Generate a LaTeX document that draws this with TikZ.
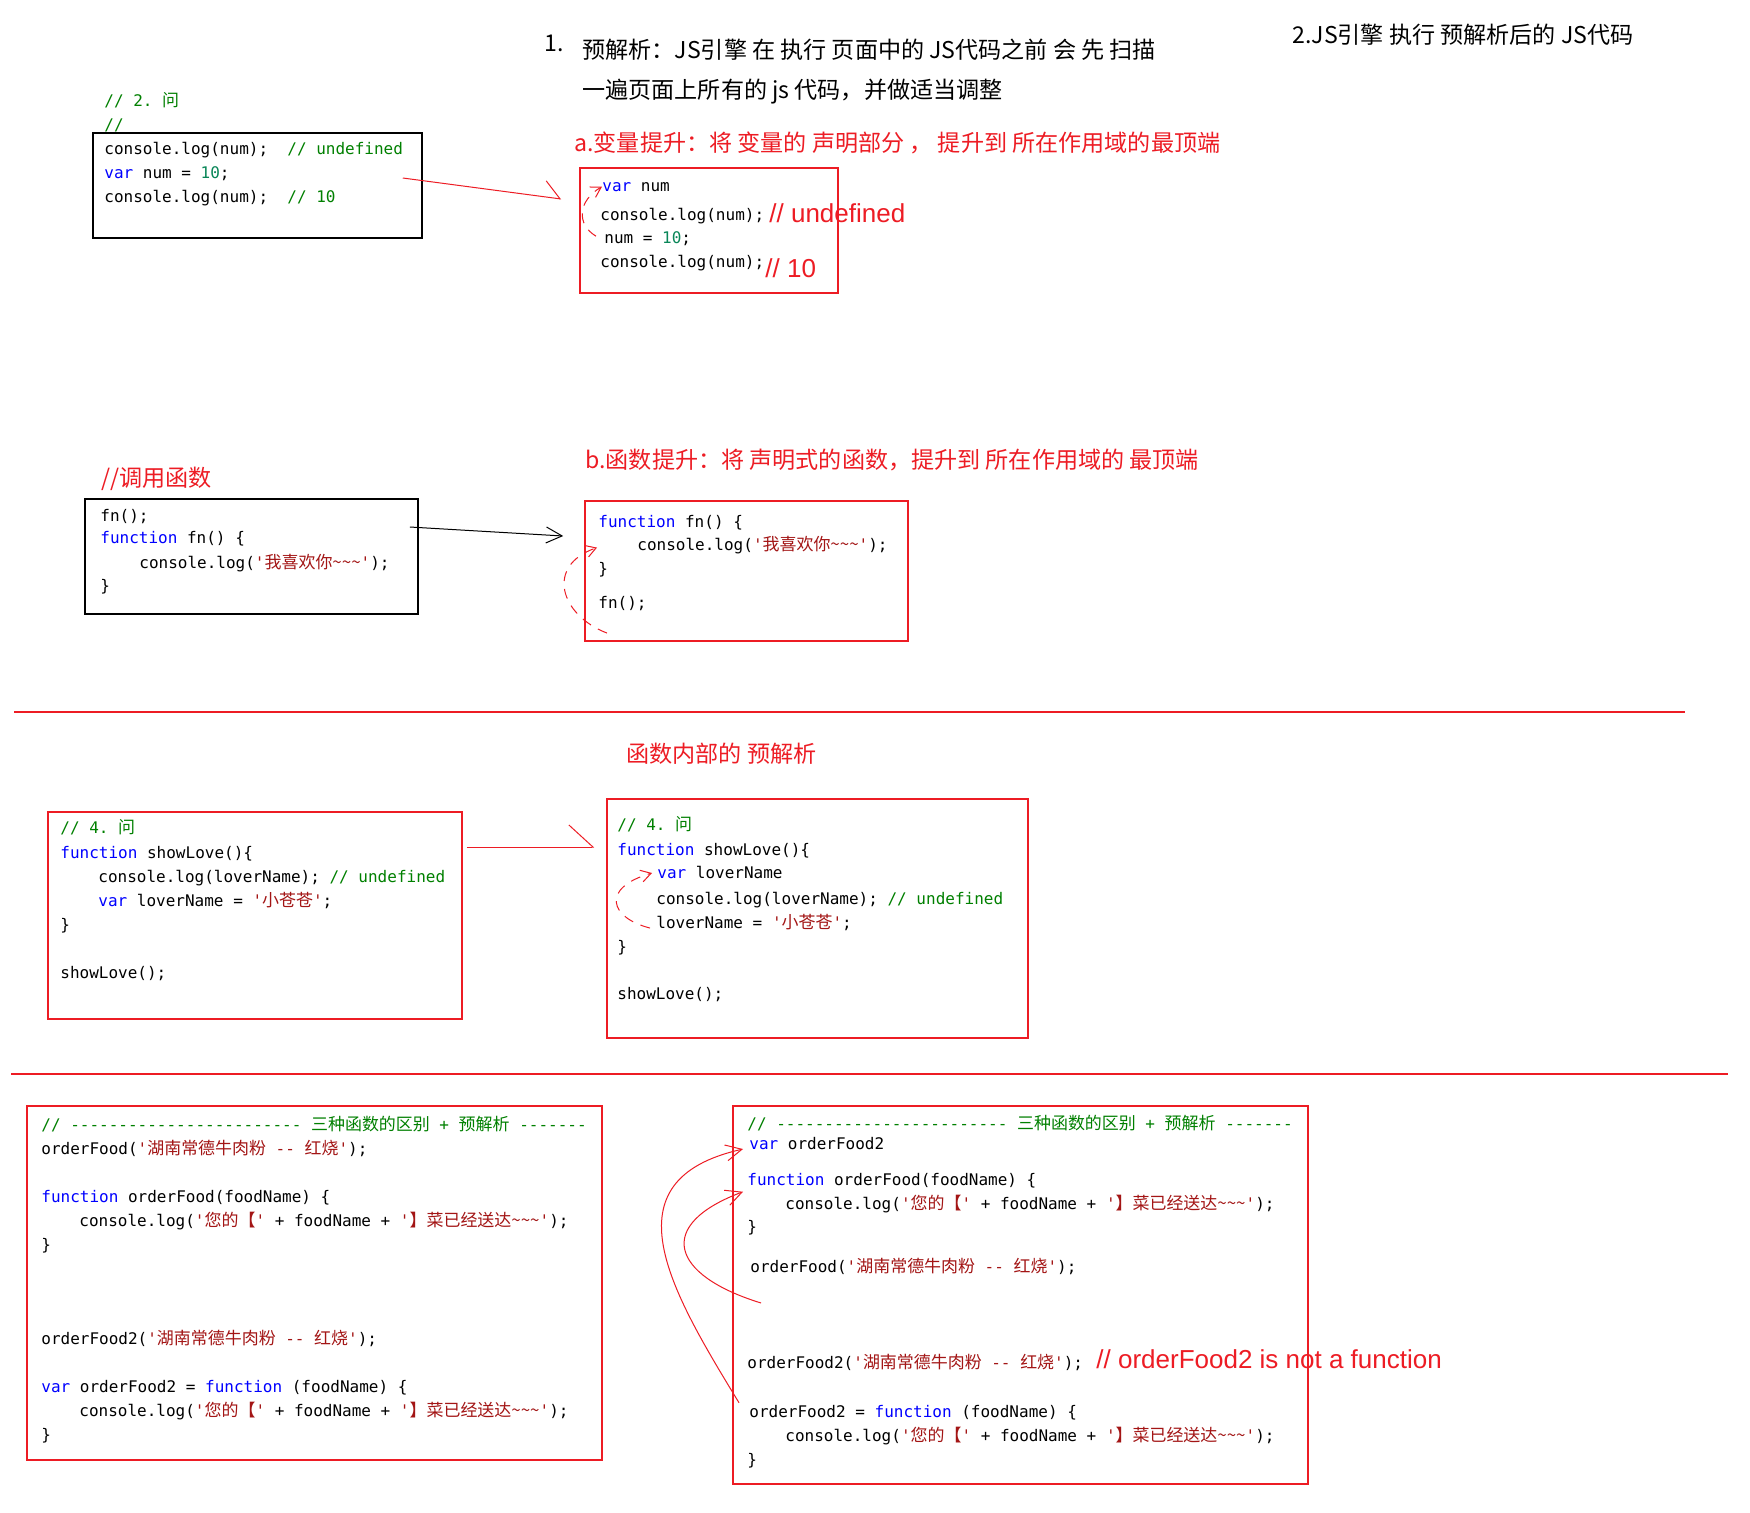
\documentclass[tikz,border=0pt]{standalone}
\usepackage{fontspec}
\setmonofont{DejaVu Sans Mono}
\newfontfamily\zhfont{Noto Sans CJK SC}
\newfontfamily\zhcode[Scale=1.06]{Noto Sans CJK SC}
\newfontfamily\notefont{Liberation Sans}
\usetikzlibrary{arrows.meta, calc, fit}

\definecolor{jskw}{RGB}{0,0,255}
\definecolor{jscm}{RGB}{0,128,0}
\definecolor{jsstr}{RGB}{163,21,21}
\definecolor{jsnum}{RGB}{9,134,88}
\definecolor{redmark}{RGB}{237,28,36}

\newcommand\zh[1]{{\zhcode #1}}
\newcommand\jskw[1]{\textcolor{jskw}{#1}}
\newcommand\jscm[1]{\textcolor{jscm}{#1}}
\newcommand\jsstr[1]{\textcolor{jsstr}{#1}}
\newcommand\jsnum[1]{\textcolor{jsnum}{#1}}
\newcommand\jstld{\textasciitilde}

\begin{document}
\begin{tikzpicture}[
    x=0.5pt, y=-0.5pt,
    every node/.style={inner sep=0pt},
    code/.style={anchor=base west, font=\ttfamily\fontsize{8}{12}\selectfont},
    head/.style={anchor=base west, font=\zhfont\fontsize{11.55}{14}\selectfont},
    redhead/.style={head, text=redmark},
    note/.style={anchor=base west, text=redmark,
        font=\notefont\fontsize{13}{15}\selectfont},
    blkbox/.style={draw=black, line width=0.8pt, inner sep=0pt},
    redbox/.style={draw=redmark, line width=0.8pt, inner sep=0pt},
    moved/.style={line width=0.5pt},
    hoist/.style={
        -{Straight Barb[length=5pt,width=6pt]},
        draw=redmark, line width=0.5pt, dash pattern=on 5pt off 4pt
    },
    hoistline/.style={
        -{Straight Barb[length=8pt,width=8pt]},
        draw=redmark, line width=0.5pt
    },
    rule/.style={draw=redmark, line width=0.6pt}
]
\path[use as bounding box, fill=white] (0,0) rectangle (1750,1512);

%% -- headings ---------------------------------------------------------
\node[head] (num1)  at (544,51)  {1.};
\node[head] (pre1)  at (582,58)  {预解析：JS引擎 在 执行 页面中的 JS代码之前 会 先 扫描};
\node[head] (pre2)  at (582,98)  {一遍页面上所有的 js 代码，并做适当调整};
\node[head] (run2)  at (1292,43) {2.JS引擎 执行 预解析后的 JS代码};
\node[redhead] (varh)  at (574,151) {a.变量提升：将 变量的 声明部分 ， 提升到 所在作用域的最顶端};
\node[redhead] (callh) at (101,486) {//调用函数};
\node[redhead] (fnh)   at (585,468) {b.函数提升：将 声明式的函数，提升到 所在作用域的 最顶端};
\node[redhead] (inh)   at (626,762) {函数内部的 预解析};

%% -- boxes ------------------------------------------------------------
\node[blkbox, fit={(93,133) (422,238)}]    (srcA) {};
\node[redbox, fit={(580,168) (838,293)}]   (dstA) {};
\node[blkbox, fit={(85,499) (418,614)}]    (srcB) {};
\node[redbox, fit={(585,501) (908,641)}]   (dstB) {};
\node[redbox, fit={(48,812) (462,1019)}]   (srcC) {};
\node[redbox, fit={(607,799) (1028,1038)}] (dstC) {};
\node[redbox, fit={(27,1106) (602,1460)}]  (srcD) {};
\node[redbox, fit={(733,1106) (1308,1484)}] (dstD) {};

%% -- a: variable ------------------------------------------------------
\node[code] (q1) at (104,106) {\jscm{// 2. \zh{问}}};
\node[code] (q2) at (104,130) {\jscm{//}};
\node[code] (a1) at (104,154) {console.log(num);\ \ \jscm{// undefined}};
\node[code] (a2) at (104,178) {\jskw{var} num = \jsnum{10};};
\node[code] (a3) at (104,202) {console.log(num);\ \ \jscm{// 10}};

\node[code] (b1) at (602,191) {\jskw{var} num};
\node[code] (b2) at (600,220) {console.log(num);};
\node[note] (b2n) at (769,222) {// undefined};
\node[code] (b3) at (604,243) {num = \jsnum{10};};
\node[code] (b4) at (600,267) {console.log(num);};
\node[note] (b4n) at (765,277) {// 10};

%% -- b: function ------------------------------------------------------
\node[code] (c1) at (100,521) {fn();};
\node[code] (c2) at (100,543) {\jskw{function} fn() \{};
\node[code] (c3) at (139,568) {console.log(\jsstr{'\zh{我喜欢你\jstld\jstld\jstld}'});};
\node[code] (c4) at (100,591) {\}};

\node[code] (d1) at (598,527) {\jskw{function} fn() \{};
\node[code] (d2) at (637,550) {console.log(\jsstr{'\zh{我喜欢你\jstld\jstld\jstld}'});};
\node[code] (d3) at (598,574) {\}};
\node[code] (d4) at (598,608) {fn();};

%% -- inside a function ------------------------------------------------
\node[code] (e1) at (60,833) {\jscm{// 4. \zh{问}}};
\node[code] (e2) at (60,858) {\jskw{function} showLove()\{};
\node[code] (e3) at (98,882) {console.log(loverName); \jscm{// undefined}};
\node[code] (e4) at (98,906) {\jskw{var} loverName = \jsstr{'\zh{小苍苍}'};};
\node[code] (e5) at (60,930) {\}};
\node[code] (e6) at (60,978) {showLove();};

\node[code] (f1) at (617,830) {\jscm{// 4. \zh{问}}};
\node[code] (f2) at (617,855) {\jskw{function} showLove()\{};
\node[code] (f3) at (657,878) {\jskw{var} loverName};
\node[code] (f4) at (656,904) {console.log(loverName); \jscm{// undefined}};
\node[code] (f5) at (656,928) {loverName = \jsstr{'\zh{小苍苍}'};};
\node[code] (f6) at (617,952) {\}};
\node[code] (f7) at (617,999) {showLove();};

%% -- three kinds of functions -----------------------------------------
\node[code] (g1) at (41,1130) {\jscm{// ------------------------ \zh{三种函数的区别} + \zh{预解析} -------}};
\node[code] (g2) at (41,1154) {orderFood(\jsstr{'\zh{湖南常德牛肉粉} -- \zh{红烧}'});};
\node[code] (g3) at (41,1202) {\jskw{function} orderFood(foodName) \{};
\node[code] (g4) at (79,1226) {console.log(\jsstr{'\zh{您的【}'} + foodName + \jsstr{'\zh{】菜已经送达\jstld\jstld\jstld}'});};
\node[code] (g5) at (41,1250) {\}};
\node[code] (g6) at (41,1344) {orderFood2(\jsstr{'\zh{湖南常德牛肉粉} -- \zh{红烧}'});};
\node[code] (g7) at (41,1392) {\jskw{var} orderFood2 = \jskw{function} (foodName) \{};
\node[code] (g8) at (79,1416) {console.log(\jsstr{'\zh{您的【}'} + foodName + \jsstr{'\zh{】菜已经送达\jstld\jstld\jstld}'});};
\node[code] (g9) at (41,1440) {\}};

\node[code] (h1) at (747,1129) {\jscm{// ------------------------ \zh{三种函数的区别} + \zh{预解析} -------}};
\node[code] (h2) at (749,1149) {\jskw{var} orderFood2};
\node[code] (h3) at (747,1185) {\jskw{function} orderFood(foodName) \{};
\node[code] (h4) at (785,1209) {console.log(\jsstr{'\zh{您的【}'} + foodName + \jsstr{'\zh{】菜已经送达\jstld\jstld\jstld}'});};
\node[code] (h5) at (747,1232) {\}};
\node[code] (h6) at (750,1272) {orderFood(\jsstr{'\zh{湖南常德牛肉粉} -- \zh{红烧}'});};
\node[code] (h7) at (747,1368) {orderFood2(\jsstr{'\zh{湖南常德牛肉粉} -- \zh{红烧}'});};
\node[note] (h7n) at (1096,1368) {// orderFood2 is not a function};
\node[code] (h8) at (749,1417) {orderFood2 = \jskw{function} (foodName) \{};
\node[code] (h9) at (785,1441) {console.log(\jsstr{'\zh{您的【}'} + foodName + \jsstr{'\zh{】菜已经送达\jstld\jstld\jstld}'});};
\node[code] (h10) at (747,1465) {\}};

%% -- arrows between boxes ---------------------------------------------
\draw[moved, draw=redmark, -{Straight Barb[left,length=8pt,width=16pt]}]
    ($(srcA.east)+(-20,-7.5)$) -- ($(dstA.west)+(-18,-31.5)$);
\draw[moved, -{Straight Barb[length=8pt,width=8pt]}]
    ($(srcB.east)+(-9,-29.5)$) -- ($(dstB.west)+(-21,-35)$);
\draw[moved, draw=redmark, -{Straight Barb[left,length=12pt,width=22pt]}]
    ($(srcC.east)+(4,-68.5)$) -- ($(dstC.west)+(-12,-71.5)$);

%% -- hoisting marks ---------------------------------------------------
\draw[hoist] ($(b3.west)+(-8,-2)$) .. controls +(-20,-12) and +(-24,14) .. (b1.west);
\draw[hoist] ($(d4.west)+(9,30)$) .. controls +(-47,-18) and +(-52,18) .. ($(d2.west)+(-40,3)$);
\draw[hoist] ($(f5.west)+(-6,6)$) .. controls +(-40,-10) and +(-52,15) .. ($(f3.west)+(-5,1)$);
\draw[hoistline] ($(h8.west)+(-10,-9.5)$) .. controls +(-69,-113) and +(-138,31) .. ($(h2.west)+(-6,6)$);
\draw[hoistline] ($(h6.west)+(11,37)$) .. controls +(-91,-28) and +(-88,33) .. ($(h3.west)+(-4,11.5)$);

%% -- section rules ----------------------------------------------------
\draw[rule] (14,712) -- (1685,712);
\draw[rule] (11,1074) -- (1728,1074);

\end{tikzpicture}
\end{document}
